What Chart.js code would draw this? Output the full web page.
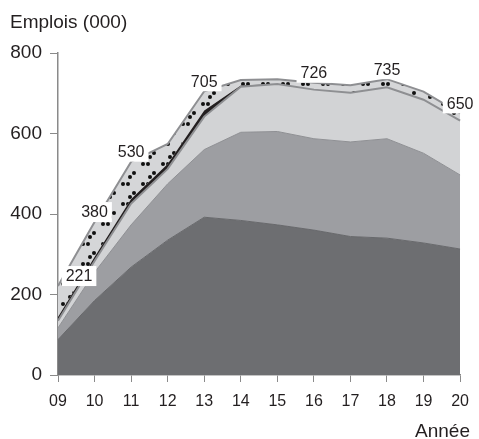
<!DOCTYPE html>
<html>
<head>
<meta charset="utf-8">
<script src="https://cdn.jsdelivr.net/npm/chart.js@4.4.0/dist/chart.umd.min.js"></script>
<style>
  html, body { margin: 0; padding: 0; background: #fff; }
  #wrap { width: 479px; height: 439px; position: relative; }
</style>
</head>
<body>
<div id="wrap"><canvas id="myChart"></canvas></div>
<script>
// years and stacked layers (thousands of jobs), bottom to top
var years = ["09", "10", "11", "12", "13", "14", "15", "16", "17", "18", "19", "20"];
var darkLayer   = [88, 185, 268, 335, 392, 384, 373, 360, 344, 340, 328, 313];
var midLayer    = [29, 70, 105, 140, 168, 219, 232, 227, 235, 247, 223, 184];
var lightLayer  = [18, 28, 53, 37, 82, 113, 118, 122, 122, 128, 133, 135];
var blackLayer  = [9, 10, 11, 12, 15, 3, 0, 0, 0, 0, 0, 0];
var dottedLayer = [77, 87, 93, 50, 48, 14, 12, 17, 19, 20, 20, 18];
var yTicks = [0, 200, 400, 600, 800];
var labelledYears = ["09", "10", "11", "13", "16", "18", "20"];

var textCol = "#231f20";
var axisCol = "#8a8a8a";

// dotted fill for the top band
var tile = document.createElement("canvas");
tile.width = 20; tile.height = 20;
var tc = tile.getContext("2d");
tc.fillStyle = "#d5d6d8";
tc.fillRect(0, 0, 20, 20);
tc.fillStyle = "#111";
[[3, 4], [8, 4], [14, 13], [10, 17]].forEach(function (d) {
    tc.beginPath(); tc.arc(d[0], d[1], 2, 0, Math.PI * 2); tc.fill();
});
var dots = tc.createPattern(tile, "repeat");

var layers = [darkLayer, midLayer, lightLayer, blackLayer, dottedLayer];
var totalAt = function (i) {
    return layers.reduce(function (s, l) { return s + l[i]; }, 0);
};

var textPlugin = {
    id: "texts",
    afterDatasetsDraw: function (chart) {
        var ctx = chart.ctx, x = chart.scales.x, y = chart.scales.y;
        ctx.save();
        ctx.font = "16px 'Liberation Sans', Arial, sans-serif";
        ctx.textAlign = "center";
        ctx.textBaseline = "middle";
        labelledYears.forEach(function (yr) {
            var i = years.indexOf(yr);
            var v = totalAt(i);
            var px = x.getPixelForValue(i) + (i === 0 ? 21 : 0);
            var py = y.getPixelForValue(v) - 10;
            var t = String(v);
            var w = ctx.measureText(t).width + 8;
            ctx.fillStyle = "#fff";
            ctx.fillRect(px - w / 2, py - 10, w, 20);
            ctx.fillStyle = textCol;
            ctx.fillText(t, px, py + 1);
        });
        ctx.font = "19px 'Liberation Sans', Arial, sans-serif";
        ctx.textBaseline = "alphabetic";
        ctx.textAlign = "left";
        ctx.fillText("Emplois (000)", 10, 28);
        ctx.textAlign = "right";
        ctx.fillText("Année", 470, 437);
        ctx.restore();
    }
};

var mk = function (data, bg, border, bw, fill) {
    return {
        data: data, backgroundColor: bg, borderColor: border, borderWidth: bw,
        fill: fill, pointRadius: 0, tension: 0
    };
};

new Chart("myChart", {
    type: "line",
    data: {
        labels: years,
        datasets: [
            mk(darkLayer, "#6d6e71", "#68696c", 1, "origin"),
            mk(midLayer, "#9d9ea2", "#8f9094", 1, "-1"),
            mk(lightLayer, "#d2d3d5", "#8e8f92", 2, "-1"),
            mk(blackLayer, "#231f20", "rgba(0,0,0,0)", 0, "-1"),
            mk(dottedLayer, dots, "#8e8f92", 2, "-1")
        ]
    },
    options: {
        responsive: true,
        maintainAspectRatio: false,
        animation: false,
        layout: { padding: { top: 53, right: 18, bottom: 0, left: 0 } },
        plugins: { legend: { display: false }, tooltip: { enabled: false } },
        scales: {
            x: {
                offset: false,
                grid: { drawOnChartArea: false, tickLength: 7, color: axisCol },
                border: { color: axisCol, width: 1.5 },
                ticks: { color: textCol, padding: 10, font: { size: 16, family: "'Liberation Sans', Arial, sans-serif" } },
                afterFit: function (s) { s.height = 64; }
            },
            y: {
                stacked: true,
                min: yTicks[0],
                max: yTicks[yTicks.length - 1],
                afterBuildTicks: function (s) { s.ticks = yTicks.map(function (v) { return { value: v }; }); },
                grid: { drawOnChartArea: false, tickLength: 8, color: axisCol },
                border: { color: axisCol, width: 1.5 },
                ticks: { color: textCol, padding: 8, font: { size: 19, family: "'Liberation Sans', Arial, sans-serif" } },
                afterFit: function (s) { s.width = 58; }
            }
        }
    },
    plugins: [textPlugin]
});
</script>
</body>
</html>
